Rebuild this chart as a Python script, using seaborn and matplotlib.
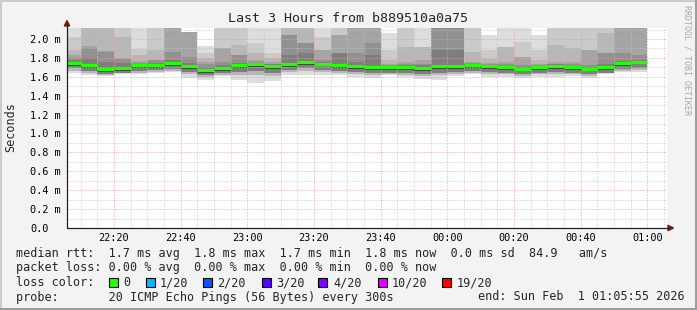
import numpy as np
import pandas as pd
import matplotlib
matplotlib.use("Agg")
import matplotlib.pyplot as plt
import matplotlib.dates as mdates
from matplotlib.patches import Rectangle, Polygon
from matplotlib.lines import Line2D
import seaborn as sns

# ---------------- data ----------------
title = "Last 3 Hours from b889510a0a75"
ylabel = "Seconds"
x_start = pd.Timestamp("2026-01-31 22:05:55")
x_end = pd.Timestamp("2026-02-01 01:05:55")
bar_starts = pd.date_range("2026-01-31 22:05", "2026-02-01 00:55", freq="5min")

# median rtt per 5-minute step (ms)
median = [1.749, 1.726, 1.683, 1.695, 1.720, 1.727, 1.742, 1.714, 1.672, 1.692,
          1.720, 1.730, 1.712, 1.737, 1.755, 1.739, 1.727, 1.714, 1.700, 1.704,
          1.704, 1.697, 1.710, 1.711, 1.722, 1.714, 1.702, 1.686, 1.700, 1.716,
          1.700, 1.686, 1.704, 1.746, 1.760]

# smoke upper edges (ms), outermost -> innermost
hi1 = [2.2, 2.2, 2.2, 2.2, 2.2, 2.2, 2.2, 2.071, 1.93, 2.2,
       2.2, 2.2, 2.2, 2.2, 2.2, 2.2, 2.2, 2.2, 2.2, 2.06,
       2.2, 2.2, 2.2, 2.2, 2.2, 2.046, 2.2, 2.2, 2.046, 2.2,
       2.2, 2.2, 2.2, 2.2, 2.2]
hi2 = [2.025, 2.2, 2.2, 2.2, 1.89, 2.2, 2.2, 2.071, 1.85, 2.2,
       2.2, 1.96, 1.848, 2.2, 2.2, 2.025, 2.2, 2.2, 2.2, 1.884,
       2.2, 1.919, 2.2, 2.2, 2.2, 1.884, 1.919, 1.972, 1.884, 2.2,
       2.2, 2.2, 2.2, 2.2, 2.2]
hi3 = [1.884, 2.2, 2.2, 2.025, 1.83, 1.884, 2.2, 2.071, 1.80, 1.90,
       1.937, 1.85, 1.80, 2.2, 2.2, 1.884, 2.04, 2.2, 2.2, 1.778,
       1.919, 1.919, 2.2, 2.2, 1.866, 1.79, 1.919, 1.813, 1.78, 1.937,
       1.90, 1.884, 2.06, 2.2, 2.2]
hi4 = [1.83, 1.93, 1.87, 1.80, 1.765, 1.78, 2.2, 2.071, 1.76, 1.90,
       1.83, 1.78, 1.76, 2.04, 1.96, 1.884, 2.04, 2.2, 2.2, 1.74,
       1.76, 1.778, 2.2, 2.2, 1.76, 1.75, 1.76, 1.813, 1.74, 1.76,
       1.76, 1.884, 1.848, 2.2, 2.2]
hi5 = [1.80, 1.90, 1.86, 1.79, 1.75, 1.775, 1.866, 1.813, 1.73, 1.76,
       1.83, 1.76, 1.74, 2.04, 1.96, 1.78, 1.85, 1.848, 1.954, 1.725,
       1.74, 1.74, 2.2, 2.2, 1.745, 1.735, 1.73, 1.72, 1.725, 1.74,
       1.73, 1.72, 1.848, 1.848, 1.831]
hi6 = [1.775, 1.80, 1.76, 1.745, 1.74, 1.75, 1.78, 1.75, 1.70, 1.72,
       1.745, 1.75, 1.73, 1.83, 1.85, 1.76, 1.85, 1.76, 1.83, 1.715,
       1.72, 1.72, 1.884, 1.884, 1.735, 1.725, 1.715, 1.70, 1.715, 1.73,
       1.715, 1.70, 1.74, 1.77, 1.775]

# smoke lower edges (ms), innermost -> outermost
lo7 = [1.718, 1.695, 1.653, 1.665, 1.690, 1.697, 1.712, 1.684, 1.642, 1.662,
       1.690, 1.700, 1.682, 1.707, 1.725, 1.709, 1.697, 1.684, 1.670, 1.674,
       1.674, 1.662, 1.680, 1.681, 1.692, 1.684, 1.672, 1.656, 1.670, 1.686,
       1.670, 1.656, 1.674, 1.716, 1.730]
lo5 = [1.690, 1.665, 1.625, 1.640, 1.660, 1.670, 1.685, 1.650, 1.615, 1.635,
       1.655, 1.660, 1.645, 1.675, 1.690, 1.675, 1.665, 1.650, 1.635, 1.645,
       1.640, 1.625, 1.645, 1.650, 1.665, 1.650, 1.640, 1.625, 1.640, 1.650,
       1.640, 1.625, 1.645, 1.685, 1.695]
lo3 = [1.665, 1.645, 1.615, 1.635, 1.645, 1.655, 1.665, 1.625, 1.600, 1.620,
       1.620, 1.615, 1.605, 1.655, 1.665, 1.655, 1.645, 1.625, 1.615, 1.630,
       1.620, 1.605, 1.615, 1.630, 1.645, 1.625, 1.625, 1.605, 1.625, 1.625,
       1.625, 1.605, 1.635, 1.665, 1.675]
lo1 = [1.637, 1.619, 1.608, 1.630, 1.630, 1.644, 1.654, 1.587, 1.566, 1.608,
       1.566, 1.531, 1.559, 1.620, 1.620, 1.620, 1.620, 1.594, 1.584, 1.619,
       1.600, 1.573, 1.566, 1.608, 1.630, 1.594, 1.594, 1.584, 1.594, 1.594,
       1.608, 1.584, 1.630, 1.654, 1.654]

y_ticks = [0.0, 0.2, 0.4, 0.6, 0.8, 1.0, 1.2, 1.4, 1.6, 1.8, 2.0]
y_ticklabels = ["0.0", "0.2 m", "0.4 m", "0.6 m", "0.8 m", "1.0 m",
                "1.2 m", "1.4 m", "1.6 m", "1.8 m", "2.0 m"]
x_ticks = pd.date_range("2026-01-31 22:20", "2026-02-01 01:00", freq="20min")
x_ticklabels = ["22:20", "22:40", "23:00", "23:20", "23:40",
                "00:00", "00:20", "00:40", "01:00"]
x_minor = pd.date_range("2026-01-31 22:10", "2026-02-01 01:05", freq="5min")

legend_rtt = "median rtt:  1.7 ms avg  1.8 ms max  1.7 ms min  1.8 ms now  0.0 ms sd  84.9   am/s"
legend_loss = "packet loss: 0.00 % avg  0.00 % max  0.00 % min  0.00 % now"
legend_color = "loss color:"
loss_labels = ["0", "1/20", "2/20", "3/20", "4/20", "10/20", "19/20"]
loss_colors = ["#26ff00", "#00b8ff", "#0059ff", "#5e00ff", "#7e00ff", "#dd00ff", "#ff0000"]
legend_probe = "probe:       20 ICMP Echo Pings (56 Bytes) every 300s"
legend_end = "end: Sun Feb  1 01:05:55 2026"
credit = "RRDTOOL / TOBI OETIKER"

# ---------------- style ----------------
sns.set_style("white")
plt.rcParams["font.family"] = ["DejaVu Sans Mono", "DejaVu Sans"]

W, H = 697, 310
L, R, T, B = 67, 667, 28, 228
fig = plt.figure(figsize=(W / 100, H / 100), dpi=100, facecolor="#f3f3f3")

def fx(x):
    return x / W

def fy(y):
    return 1 - y / H

ax = fig.add_axes([fx(L), fy(B), (R - L) / W, (B - T) / H])
ax.set_facecolor("white")
for s in ax.spines.values():
    s.set_visible(False)

xs = mdates.date2num(bar_starts.to_pydatetime())
width = 5 / 1440.0

bands = [(lo1, hi1, "#dddddd"), (lo3, hi2, "#cacaca"), (lo3, hi3, "#b7b7b7"),
         (lo5, hi4, "#a4a4a4"), (lo5, hi5, "#919191"), (lo5, hi6, "#7e7e7e"),
         (lo7, median, "#3c3c3c")]
for lo, hi, col in bands:
    lo_a = np.asarray(lo)
    hi_a = np.asarray(hi)
    ax.bar(xs, hi_a - lo_a, bottom=lo_a, width=width, align="edge",
           color=col, linewidth=0, zorder=1)

n = len(median)
df = pd.DataFrame({
    "t": np.concatenate([xs, xs + width]),
    "v": np.concatenate([median, median]),
    "unit": np.concatenate([np.arange(n), np.arange(n)]),
})
sns.lineplot(data=df, x="t", y="v", units="unit", estimator=None,
             color=loss_colors[0], linewidth=2.3, solid_capstyle="butt",
             ax=ax, legend=False, zorder=4)

ax.set_xlim(mdates.date2num(x_start.to_pydatetime()), mdates.date2num(x_end.to_pydatetime()))
ax.set_ylim(0, 2.116)
ax.set_xlabel("")
ax.set_ylabel("")

ax.set_xticks(mdates.date2num(x_ticks.to_pydatetime()), x_ticklabels)
ax.set_xticks(mdates.date2num(x_minor.to_pydatetime()), minor=True)
ax.set_yticks(y_ticks, y_ticklabels)
ax.set_yticks(np.arange(0.1, 2.15, 0.2), minor=True)

ax.tick_params(axis="both", which="major", direction="out", length=2.2, width=0.72,
               color="#202020", labelsize=7.4, labelcolor="black")
ax.tick_params(axis="both", which="minor", direction="out", length=1.4, width=0.72,
               color="#202020")
ax.tick_params(axis="y", which="major", pad=24.4)
ax.tick_params(axis="x", which="major", pad=1.5)
for lbl in ax.get_yticklabels():
    lbl.set_horizontalalignment("left")

ax.grid(True, which="major", color="#f09a9a", linestyle=(0, (1, 2)), linewidth=0.72)
ax.grid(True, which="minor", color="#c4c4c4", linestyle=(0, (1, 2)), linewidth=0.72)
ax.set_axisbelow(False)

# axes lines and arrows (figure pixel coords)
axis_col = "#202020"
fig.add_artist(Line2D([fx(L), fx(L)], [fy(B), fy(24)], color=axis_col, lw=0.9))
fig.add_artist(Line2D([fx(L), fx(669)], [fy(B), fy(B)], color=axis_col, lw=0.9))
arrow_col = "#7a1a1a"
fig.add_artist(Polygon([(fx(64.3), fy(26)), (fx(69.7), fy(26)), (fx(L), fy(20.5))],
                       closed=True, color=arrow_col, transform=fig.transFigure))
fig.add_artist(Polygon([(fx(668), fy(225.3)), (fx(668), fy(230.7)), (fx(673.5), fy(B))],
                       closed=True, color=arrow_col, transform=fig.transFigure))

# texts
fig.text(fx(348), fy(19), title, ha="center", va="center", fontsize=9.6)
fig.text(fx(11), fy(127), ylabel, ha="center", va="center", rotation=90, fontsize=8.5)
fig.text(fx(687), fy(60), credit, ha="center", va="center", rotation=270,
         fontsize=6, color="#a8a8a8")

fs = 8.5
fig.text(fx(16), fy(254), legend_rtt, ha="left", va="center", fontsize=fs)
fig.text(fx(16), fy(268), legend_loss, ha="left", va="center", fontsize=fs)
fig.text(fx(16), fy(282.5), legend_color, ha="left", va="center", fontsize=fs)
box_x = [109, 146, 203, 262, 318, 378, 442]
text_x = [123, 160, 217, 276, 333, 392, 457]
for bx, tx, lab, col in zip(box_x, text_x, loss_labels, loss_colors):
    fig.add_artist(Rectangle((fx(bx), fy(287)), 9 / W, 9 / H, transform=fig.transFigure,
                             facecolor=col, edgecolor="black", linewidth=0.8))
    fig.text(fx(tx), fy(282.5), lab, ha="left", va="center", fontsize=fs)
fig.text(fx(16), fy(297), legend_probe, ha="left", va="center", fontsize=fs)
fig.text(fx(478), fy(297), legend_end, ha="left", va="center", fontsize=fs)

# border (3D style)
fig.add_artist(Line2D([0, 1], [fy(0.5), fy(0.5)], color="#cbcbcb", lw=1.5))
fig.add_artist(Line2D([fx(0.5), fx(0.5)], [0, 1], color="#cbcbcb", lw=1.5))
fig.add_artist(Line2D([0, 1], [fy(308.5), fy(308.5)], color="#9e9e9e", lw=2.2))
fig.add_artist(Line2D([fx(695.5), fx(695.5)], [0, 1], color="#9e9e9e", lw=2.2))

fig.savefig("out.png", dpi=100, facecolor=fig.get_facecolor())
